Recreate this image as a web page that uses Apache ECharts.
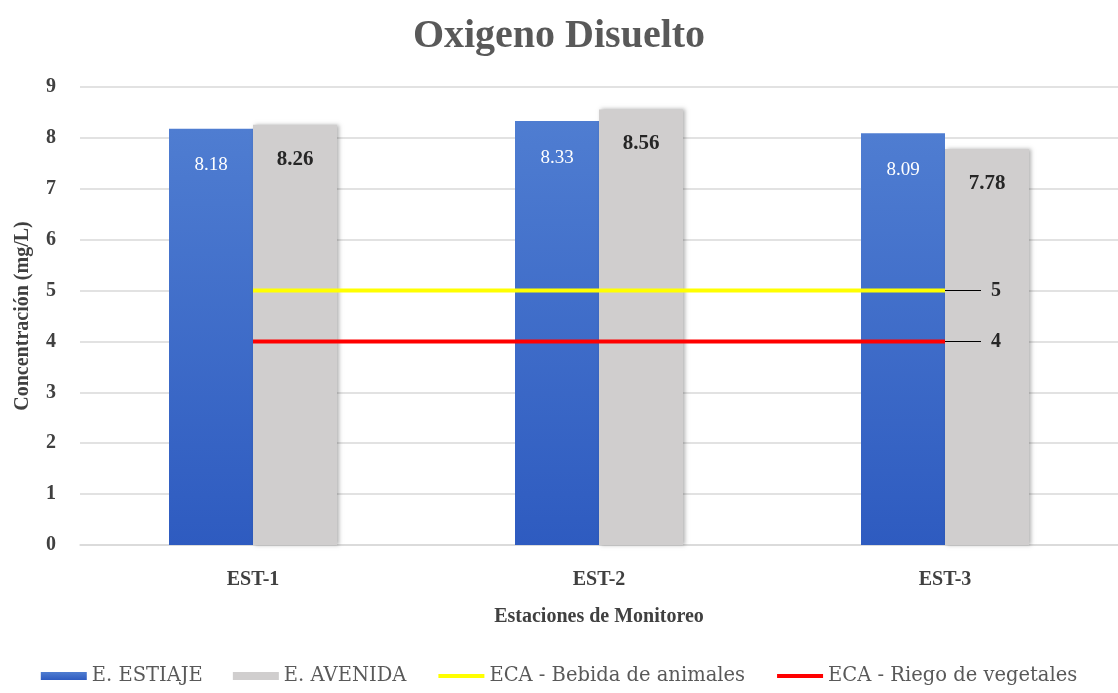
<!DOCTYPE html>
<html>
<head>
<meta charset="utf-8">
<script src="https://cdn.jsdelivr.net/npm/echarts@6/dist/echarts.min.js"></script>
<style>
  html, body { margin: 0; padding: 0; background: #fff; }
  #chartBox { width: 1118px; height: 693px; }
</style>
</head>
<body>
<div id="chartBox"></div>
<script>
// estaciones de monitoreo
var estaciones = ['EST-1', 'EST-2', 'EST-3'];
// oxigeno disuelto (mg/L)
var estiaje = [8.18, 8.33, 8.09];
var avenida = [8.26, 8.56, 7.78];
// limites ECA
var ecaBebida = [5, 5, 5];
var ecaRiego = [4, 4, 4];

var serif = 'Liberation Serif';
var serifReg = 'DejaVu Serif';

// etiqueta al final de la linea, con linea guia
var endLabel = {
  show: true,
  distance: 0,
  formatter: function (p) { return '{l|}{v|' + p.value + '}'; },
  rich: {
    l: { width: 36, height: 1, backgroundColor: '#000' },
    v: { padding: [0, 0, 0, 10], fontFamily: serif, fontWeight: 'bold', fontSize: 20, color: '#262626' }
  }
};

// icono de linea sin punto
var noDot = { color: 'rgba(0,0,0,0)', borderWidth: 0 };

var chart = echarts.init(document.getElementById('chartBox'));
var option = {
  animation: false,
  textStyle: { fontFamily: serif },
  title: {
    text: 'Oxigeno Disuelto',
    left: 'center',
    top: 12,
    textStyle: { fontFamily: serif, fontWeight: 'bold', fontSize: 40, color: '#595959' }
  },
  legend: {
    bottom: 2,
    left: 'center',
    itemWidth: 46,
    itemHeight: 8,
    itemGap: 30,
    textStyle: { fontFamily: serifReg, fontSize: 19.5, color: '#595959' },
    data: [
      { name: 'E. ESTIAJE', icon: 'rect' },
      { name: 'E. AVENIDA', icon: 'rect' },
      { name: 'ECA - Bebida de animales', itemStyle: noDot, lineStyle: { width: 4 } },
      { name: 'ECA - Riego de vegetales', itemStyle: noDot, lineStyle: { width: 4 } }
    ]
  },
  grid: { left: 80, top: 87, bottom: 148, width: 1047 },
  xAxis: {
    type: 'category',
    data: estaciones,
    name: 'Estaciones de Monitoreo',
    nameLocation: 'middle',
    nameGap: 62,
    nameTextStyle: { fontFamily: serif, fontWeight: 'bold', fontSize: 20, color: '#404040' },
    axisLine: { lineStyle: { color: '#d9d9d9', width: 1.5 } },
    axisTick: { show: false },
    axisLabel: { fontFamily: serif, fontWeight: 'bold', fontSize: 20, color: '#404040', margin: 25 }
  },
  yAxis: {
    type: 'value',
    min: 0,
    max: 9,
    interval: 1,
    name: 'Concentración (mg/L)',
    nameLocation: 'middle',
    nameGap: 47,
    nameTextStyle: { fontFamily: serif, fontWeight: 'bold', fontSize: 20, color: '#404040' },
    axisLine: { show: false },
    axisTick: { show: false },
    axisLabel: { fontFamily: serif, fontWeight: 'bold', fontSize: 20, color: '#404040', margin: 24 },
    splitLine: { lineStyle: { color: '#d9d9d9', width: 1.5 } }
  },
  series: [
    {
      name: 'E. ESTIAJE',
      type: 'bar',
      data: estiaje,
      barWidth: 84,
      barGap: '0%',
      itemStyle: {
        color: new echarts.graphic.LinearGradient(0, 0, 0, 1, [
          { offset: 0, color: '#4f7dd1' },
          { offset: 1, color: '#2e5bc0' }
        ])
      },
      label: {
        show: true,
        position: 'insideTop',
        distance: 27,
        fontFamily: serif,
        fontSize: 19,
        color: '#ffffff'
      }
    },
    {
      name: 'E. AVENIDA',
      type: 'bar',
      data: avenida,
      barWidth: 84,
      itemStyle: {
        color: '#d0cece',
        shadowColor: 'rgba(0,0,0,0.3)',
        shadowBlur: 4,
        shadowOffsetX: 2
      },
      label: {
        show: true,
        position: 'insideTop',
        distance: 24,
        fontFamily: serif,
        fontWeight: 'bold',
        fontSize: 21,
        color: '#262626'
      }
    },
    {
      name: 'ECA - Bebida de animales',
      type: 'line',
      data: ecaBebida,
      symbol: 'none',
      color: '#ffff00',
      lineStyle: { color: '#ffff00', width: 4 },
      endLabel: endLabel,
      z: 5
    },
    {
      name: 'ECA - Riego de vegetales',
      type: 'line',
      data: ecaRiego,
      symbol: 'none',
      color: '#ff0000',
      lineStyle: { color: '#ff0000', width: 4 },
      endLabel: endLabel,
      z: 5
    }
  ]
};
chart.setOption(option);
</script>
</body>
</html>
